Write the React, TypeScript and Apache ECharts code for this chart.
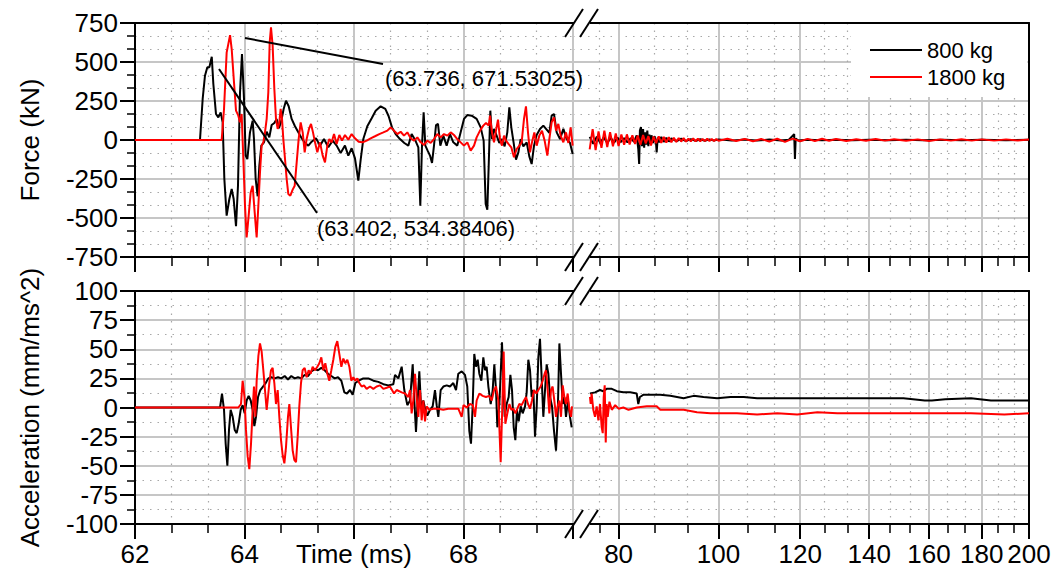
import React, { useEffect, useRef } from 'react';
import * as echarts from 'echarts';

const FONT = '"Liberation Sans", Arial, Helvetica, sans-serif';

// ---------- axes / ticks ----------
const timeLeftTicks = [62, 64, 66, 68, 70];
const timeLeftLabels = ['62', '64', '', '68', ''];
const timeRightMajor = [80, 100, 120, 140, 160, 180, 200];
const timeRightMinor = [76.67, 86.67, 93.33, 106.67, 113.33, 126.67, 133.33, 146.67, 153.33, 166.67, 173.33, 186.67, 193.33];
const timeRightRange = [72.26, 200];
const forceTicks = [-750, -500, -250, 0, 250, 500, 750];
const accelTicks = [-100, -75, -50, -25, 0, 25, 50, 75, 100];
const seriesNames = ['800 kg', '1800 kg'];
const annotations = ['(63.736, 671.53025)', '(63.402, 534.38406)'];

// ---------- data: [time (ms), value] ----------
const force800Left: [number, number][] = [
  [62.0, 0], [62.639, 0], [63.187, 0], [63.236, 263], [63.278, 412], [63.321, 466], [63.358, 466], [63.402, 534],
  [63.431, 359], [63.479, 167], [63.522, 145], [63.565, 177], [63.601, 113], [63.632, -250], [63.674, -485],
  [63.723, -378], [63.766, -314], [63.802, -378], [63.845, -553], [63.881, -293], [63.918, 306], [63.954, 551],
  [63.991, 263], [64.021, -100], [64.052, -122], [64.100, 49], [64.149, 124], [64.173, 6], [64.204, -250],
  [64.240, -361], [64.271, -165], [64.307, -36], [64.356, -15], [64.405, 53], [64.453, 17], [64.496, 96],
  [64.545, 109], [64.587, 135], [64.630, 75], [64.673, 124], [64.715, 199], [64.758, 252], [64.807, 216],
  [64.861, 135], [64.922, 88], [64.983, 49], [65.044, 11], [65.105, -19], [65.166, -36], [65.227, -11],
  [65.306, 11], [65.379, -36], [65.452, 6], [65.531, -47], [65.610, -4], [65.683, -36], [65.756, -83],
  [65.835, -36], [65.896, -100], [65.957, -53], [66.018, -118], [66.079, -261], [66.122, -126], [66.170, 6],
  [66.243, 88], [66.323, 139], [66.396, 188], [66.487, 216], [66.572, 199], [66.633, 152], [66.694, 81],
  [66.761, 38], [66.840, 6], [66.919, -19], [66.992, -36], [67.053, 38], [67.114, 2], [67.175, -47],
  [67.211, -421], [67.242, -36], [67.272, 177], [67.303, -36], [67.345, -68], [67.388, -100], [67.425, -147],
  [67.461, -36], [67.498, 96], [67.534, 103], [67.577, -36], [67.631, 28], [67.692, -36], [67.753, 38],
  [67.814, -15], [67.887, -36], [67.948, 49], [68.009, 135], [68.070, 160], [68.149, 156], [68.240, 135],
  [68.314, 81], [68.368, -4], [68.405, -410], [68.435, -447], [68.460, -165], [68.490, 188], [68.520, 6],
  [68.557, 71], [68.605, 28], [68.654, -19], [68.703, 6], [68.751, -41], [68.800, 49], [68.837, 209],
  [68.873, 81], [68.916, -19], [68.959, -126], [69.002, -79], [69.044, 6], [69.093, -41], [69.154, -15],
  [69.202, -105], [69.245, -154], [69.288, -36], [69.336, 32], [69.397, 71], [69.458, 92], [69.519, 66],
  [69.568, 45], [69.610, 156], [69.653, 167], [69.702, 49], [69.763, 6], [69.824, 71], [69.885, 6],
  [69.946, -19], [69.994, -90],
];

const force1800Left: [number, number][] = [
  [62.0, 0], [63.583, 0], [63.626, 199], [63.674, 560], [63.736, 672], [63.766, 583], [63.808, 370],
  [63.845, 188], [63.887, 156], [63.918, 113], [63.948, 167], [63.979, -122], [64.009, -421], [64.039, -624],
  [64.076, -485], [64.113, -336], [64.149, -293], [64.186, -464], [64.222, -624], [64.253, -421], [64.283, -207],
  [64.313, -36], [64.344, -15], [64.374, 49], [64.405, 135], [64.435, 306], [64.460, 626], [64.484, 722],
  [64.514, 605], [64.545, 327], [64.575, 135], [64.606, 71], [64.636, 113], [64.660, 199], [64.685, 135],
  [64.709, 6], [64.740, -122], [64.770, -250], [64.800, -346], [64.837, -357], [64.880, -318], [64.917, -293],
  [64.953, -143], [64.989, 6], [65.026, 113], [65.063, 49], [65.099, -79], [65.135, 6], [65.178, 71],
  [65.215, 103], [65.251, 49], [65.288, -15], [65.330, -79], [65.379, -15], [65.428, -100], [65.470, -143],
  [65.513, -36], [65.549, 6], [65.592, -15], [65.635, 38], [65.683, -26], [65.732, 32], [65.781, -4],
  [65.835, 32], [65.896, 2], [65.957, 38], [66.018, 11], [66.085, -11], [66.158, -15], [66.231, -4],
  [66.304, 11], [66.383, 24], [66.462, 38], [66.536, 49], [66.609, 60], [66.669, 81], [66.730, 60],
  [66.791, 38], [66.852, 53], [66.913, 28], [66.974, 49], [67.035, 11], [67.096, -4], [67.157, 17],
  [67.218, -15], [67.279, -32], [67.340, -4], [67.400, -19], [67.461, 6], [67.522, 38], [67.583, 17],
  [67.644, 38], [67.705, 28], [67.766, 49], [67.826, 32], [67.887, 6], [67.948, -15], [68.009, -36],
  [68.070, -15], [68.131, -68], [68.192, -36], [68.240, 17], [68.301, 60], [68.362, 92], [68.411, 109],
  [68.460, 92], [68.484, 156], [68.520, 49], [68.557, -15], [68.593, 60], [68.630, 130], [68.667, 6],
  [68.703, -36], [68.740, 28], [68.776, -4], [68.824, -26], [68.873, -47], [68.922, -111], [68.971, -58],
  [69.020, -36], [69.062, -15], [69.105, 135], [69.141, 216], [69.178, 49], [69.214, -79], [69.251, -15],
  [69.294, 49], [69.336, -36], [69.385, 28], [69.434, 60], [69.482, -4], [69.531, -100], [69.568, 6],
  [69.610, 113], [69.653, 145], [69.690, 60], [69.732, 103], [69.775, 28], [69.824, -15], [69.872, 49],
  [69.915, -19], [69.957, 81], [69.994, -36],
];

const force800Right: [number, number][] = [
  [75.0, 20], [75.6, -25], [76.2, 22], [76.8, -20], [77.4, 18], [78.0, -20], [78.6, 15], [79.2, -18],
  [79.8, 15], [80.4, -14], [81.0, 12], [81.6, -15], [82.2, 12], [82.8, -12], [83.3, 30], [83.6, -60],
  [83.76, -154], [83.9, 60], [84.1, 83], [84.3, -40], [84.5, 70], [84.7, -50], [84.9, 50], [85.1, -30],
  [85.3, 60], [85.5, -40], [85.7, 35], [85.9, -25], [86.1, 30], [86.4, -20], [86.7, 25], [87.0, -30],
  [87.1, -79], [87.3, 15], [87.6, -15], [88.0, 20], [88.5, -12], [89.0, 14], [89.5, -10], [90.0, 10],
  [91, -8], [92, 8], [93, -7], [94, 6], [95, -6], [96, 5], [97, -5], [98, 4], [99, -4], [100, 4],
  [103, -4], [106, 3], [109, -4], [112, 3], [115, -3], [117, 2], [118.4, 38], [118.6, -122], [118.8, 10],
  [119.5, -3], [122, 2], [126, -2], [130, 2], [135, -2], [140, 2], [146, -2], [152, 2], [158, -2],
  [165, 2], [172, -2], [180, 2], [190, -2], [200, 1],
];

const force1800Right: [number, number][] = [
  [75.0, -60], [75.5, 70], [76.0, -65], [76.5, 55], [77.0, -50], [77.5, 60], [78.0, -45], [78.5, 50],
  [79.0, -40], [79.5, 42], [80.0, -38], [80.5, 35], [81.0, -30], [81.5, 36], [82.0, -28], [82.5, 30],
  [83.0, -25], [83.5, 28], [84.0, -30], [84.5, 32], [85.0, -22], [85.5, 25], [86.0, -35], [86.5, 22],
  [87.0, -20], [87.5, 24], [88.0, -18], [88.5, 20], [89.0, -16], [89.5, 18], [90.0, -15], [90.5, 14],
  [91.0, -12], [91.5, 13], [92.0, -10], [92.5, 12], [93.0, -10], [93.5, 9], [94.0, -9], [94.5, 10],
  [95.0, -8], [95.5, 9], [96.0, -8], [96.5, 7], [97.0, -7], [97.5, 8], [98.0, -6], [98.5, 7], [99.0, -6],
  [99.5, 6], [100, -5], [102, 8], [104, -6], [106, 7], [108, -8], [110, 6], [112, -10], [114, 8],
  [116, -12], [118, 9], [120, -8], [122, 7], [124, -6], [126, 8], [128, -5], [130, 6], [133, -6],
  [136, 5], [139, -5], [142, 6], [145, -4], [148, 5], [152, -5], [156, 4], [160, -6], [164, 4],
  [168, -4], [172, 5], [176, -4], [180, 4], [185, -4], [190, 4], [195, -3], [200, 3],
];

const accel800Left: [number, number][] = [
  [62.0, 0], [63.126, 0], [63.553, 0], [63.589, 12], [63.626, -2], [63.656, -31], [63.687, -50], [63.717, -19],
  [63.747, -2], [63.784, -8], [63.820, -19], [63.857, -22], [63.893, -14], [63.930, -2], [63.966, 2],
  [64.003, -5], [64.039, 6], [64.076, 10], [64.113, 6], [64.149, -2], [64.180, -16], [64.210, -8],
  [64.247, 9], [64.289, 15], [64.338, 18], [64.387, 21], [64.435, 25], [64.490, 26], [64.551, 25],
  [64.612, 26], [64.673, 25], [64.734, 27], [64.794, 24], [64.855, 27], [64.916, 25], [64.977, 26],
  [65.038, 25], [65.099, 28], [65.160, 27], [65.221, 31], [65.282, 33], [65.342, 32], [65.403, 34],
  [65.464, 32], [65.525, 29], [65.586, 27], [65.647, 25], [65.708, 26], [65.769, 23], [65.823, 13],
  [65.872, 12], [65.927, 15], [65.976, 11], [66.024, 21], [66.085, 23], [66.170, 25], [66.262, 25],
  [66.353, 23], [66.444, 22], [66.536, 20], [66.627, 19], [66.718, 20], [66.749, 28], [66.810, 25],
  [66.871, 35], [66.919, 15], [66.974, 2], [67.023, 6], [67.072, 37], [67.102, 6], [67.132, -21],
  [67.163, 6], [67.193, 31], [67.224, 1], [67.266, 6], [67.303, -2], [67.339, -7], [67.388, -2],
  [67.437, 1], [67.479, 15], [67.510, 2], [67.540, -8], [67.583, 15], [67.632, 18], [67.693, 19],
  [67.753, 18], [67.814, 21], [67.863, 15], [67.905, 29], [67.967, 31], [68.027, 28], [68.069, 18],
  [68.106, -20], [68.137, -31], [68.167, 1], [68.197, 46], [68.228, 35], [68.259, 41], [68.289, 29],
  [68.326, 23], [68.362, 43], [68.393, 32], [68.423, 35], [68.454, 18], [68.497, 3], [68.533, 15],
  [68.563, 37], [68.594, 15], [68.618, -17], [68.655, 3], [68.679, 29], [68.703, 56], [68.728, 21],
  [68.752, -8], [68.788, 3], [68.825, 9], [68.856, 28], [68.886, 15], [68.917, -17], [68.947, -28],
  [68.977, -2], [69.008, -12], [69.045, 1], [69.081, -5], [69.124, 1], [69.154, 13], [69.184, 41],
  [69.215, 32], [69.245, 9], [69.276, 15], [69.306, -25], [69.337, 1], [69.367, 43], [69.397, 59],
  [69.428, 25], [69.458, -8], [69.489, 15], [69.519, 37], [69.550, 29], [69.580, 9], [69.617, 1],
  [69.653, -20], [69.690, -37], [69.720, -8], [69.751, 55], [69.781, 29], [69.812, 3], [69.842, 9],
  [69.872, -8], [69.909, 6], [69.945, -8], [69.976, -17],
];

const accel1800Left: [number, number][] = [
  [62.0, 0], [63.887, 0], [63.936, 3], [63.966, 23], [64.000, 9], [64.027, -19], [64.058, -42], [64.088, -53],
  [64.119, -31], [64.149, -2], [64.173, 18], [64.198, -8], [64.222, 23], [64.253, 44], [64.283, 55],
  [64.313, 48], [64.344, 32], [64.374, 15], [64.405, -2], [64.429, 9], [64.453, 21], [64.484, 32],
  [64.514, 34], [64.545, 21], [64.575, 3], [64.606, 15], [64.636, -8], [64.667, -28], [64.697, -41],
  [64.728, -48], [64.758, -34], [64.794, -8], [64.819, 3], [64.849, -17], [64.880, -37], [64.910, -45],
  [64.941, -47], [64.971, -25], [65.001, 1], [65.032, 21], [65.062, 32], [65.099, 34], [65.135, 26],
  [65.172, 32], [65.208, 29], [65.245, 35], [65.287, 32], [65.330, 35], [65.367, 38], [65.403, 43],
  [65.440, 32], [65.476, 38], [65.513, 29], [65.549, 23], [65.586, 32], [65.622, 41], [65.659, 52],
  [65.695, 57], [65.732, 46], [65.769, 35], [65.805, 42], [65.842, 38], [65.878, 41], [65.915, 35],
  [65.951, 23], [65.988, 26], [66.024, 23], [66.061, 25], [66.097, 21], [66.140, 18], [66.182, 19],
  [66.231, 16], [66.292, 18], [66.353, 16], [66.414, 18], [66.475, 19], [66.536, 16], [66.597, 17],
  [66.657, 18], [66.731, 12], [66.779, 15], [66.871, 13], [66.932, 12], [66.992, 9], [67.023, 15],
  [67.053, -5], [67.083, 6], [67.114, 29], [67.144, 9], [67.175, -8], [67.205, 15], [67.236, -11],
  [67.266, 6], [67.297, -12], [67.327, 1], [67.376, -2], [67.450, -1], [67.540, -1], [67.630, -2],
  [67.720, -1], [67.800, -1], [67.905, -1], [67.967, -8], [68.000, 2], [68.060, 0], [68.118, 3],
  [68.170, 2], [68.210, -8], [68.240, 6], [68.289, 12], [68.350, 10], [68.410, 9], [68.472, 10],
  [68.515, 6], [68.558, 15], [68.594, 18], [68.637, 6], [68.679, -47], [68.709, 1], [68.734, 48],
  [68.764, -14], [68.801, -5], [68.838, 3], [68.875, -2], [68.911, -1], [68.947, -5], [68.984, -1],
  [69.020, 3], [69.062, 2], [69.105, 6], [69.142, 9], [69.178, 3], [69.215, -1], [69.251, 6],
  [69.288, 15], [69.330, 12], [69.367, 15], [69.409, 18], [69.446, 23], [69.482, 29], [69.507, 32],
  [69.537, 15], [69.568, -5], [69.598, 15], [69.628, 18], [69.659, 6], [69.690, -8], [69.720, 1],
  [69.751, 6], [69.781, -8], [69.812, 19], [69.842, 9], [69.872, 3], [69.903, 12], [69.933, -2],
  [69.964, -8], [69.982, 1],
];

const accel800Right: [number, number][] = [
  [75.05, 12], [75.9, 13], [76.75, 15], [77.3, 14], [77.9, 16], [78.8, 16], [79.7, 14], [80.86, 13],
  [82.1, 13], [83.3, 12], [83.6, 3], [83.9, 9], [84.6, 11], [85.8, 11], [87.8, 11], [89.8, 10],
  [92.5, 8], [94.6, 10], [96.7, 9], [99.7, 8], [102.7, 9], [105.8, 9], [109.0, 8], [112.3, 8],
  [116.6, 8], [121.0, 8], [126.5, 8], [132.3, 8], [138.4, 8], [145.6, 8], [151.1, 8], [158.5, 6],
  [161.0, 6], [165.9, 7], [175.7, 8], [183.7, 6], [189.3, 6], [200, 6],
];

const accel1800Right: [number, number][] = [
  [75.05, 9], [75.17, 3], [75.33, 12], [75.61, -2], [75.9, -8], [76.18, 1], [76.47, -11], [76.75, 3],
  [77.04, -17], [77.22, -22], [77.39, 9], [77.56, 19], [77.74, -30], [77.9, 3], [78.09, -8], [78.38, 5],
  [78.8, -2], [79.4, 2], [80.0, -1], [80.86, 0], [81.8, -2], [83.3, 0], [85.2, 1], [87.1, 1],
  [87.8, -2], [89.8, -2], [92.5, -2], [95.3, -4], [98.2, -5], [101.2, -5], [104.2, -5], [109.0, -6],
  [114.0, -5], [119.2, -6], [124.7, -4], [130.4, -5], [140.5, -5], [151.1, -5], [163.4, -5],
  [175.7, -5], [189.3, -6], [200, -5],
];

// ---------- styles ----------
const BLACK = '#000000';
const RED = '#ff0000';
const GRID_MAJOR = { color: '#c6c6c6', width: 2 };
const GRID_MINOR = { color: '#a8a8a8', width: 1.2, type: [1.5, 6] as any };

const grids = [
  { left: 135, top: 23, width: 438, height: 234, outerBoundsMode: 'none', containLabel: false },
  { left: 573, top: 23, width: 456, height: 234, outerBoundsMode: 'none', containLabel: false },
  { left: 135, top: 291, width: 438, height: 233, outerBoundsMode: 'none', containLabel: false },
  { left: 573, top: 291, width: 456, height: 233, outerBoundsMode: 'none', containLabel: false },
];
const FRAME_YS = [23, 257, 291, 524];

function leftTimeAxis(gridIndex: number, labels: boolean): any {
  return {
    type: 'value', gridIndex, position: 'bottom',
    min: timeLeftTicks[0], max: timeLeftTicks[timeLeftTicks.length - 1],
    interval: timeLeftTicks[1] - timeLeftTicks[0],
    axisLine: { show: true, onZero: false, lineStyle: { color: BLACK, width: 2 } },
    axisTick: { show: true, length: 15, lineStyle: { color: BLACK, width: 2 } },
    minorTick: { show: true, splitNumber: 3, length: 9, lineStyle: { color: BLACK, width: 1.5 } },
    splitLine: { show: true, lineStyle: GRID_MAJOR },
    minorSplitLine: { show: true, lineStyle: GRID_MINOR },
    axisLabel: {
      show: labels, margin: 17, fontSize: 26, fontFamily: FONT, color: BLACK,
      formatter: (v: number) => timeLeftLabels[timeLeftTicks.indexOf(v)] ?? '',
    },
    name: labels ? 'Time (ms)' : '', nameLocation: 'middle', nameGap: 17, nameMoveOverlap: false,
    nameTextStyle: { fontSize: 26, fontFamily: FONT, color: BLACK },
  };
}

function rightTimeAxisMajor(gridIndex: number, labels: boolean): any {
  return {
    type: 'log', logBase: 10, gridIndex, position: 'bottom',
    min: timeRightRange[0], max: timeRightRange[1],
    axisLine: { show: true, onZero: false, lineStyle: { color: BLACK, width: 2 } },
    axisTick: { show: true, length: 15, customValues: timeRightMajor, lineStyle: { color: BLACK, width: 2 } },
    minorTick: { show: false },
    splitLine: { show: true, lineStyle: GRID_MAJOR },
    minorSplitLine: { show: false },
    axisLabel: {
      show: labels, margin: 17, fontSize: 26, fontFamily: FONT, color: BLACK,
      customValues: timeRightMajor, formatter: (v: number) => String(Math.round(v)),
    },
  };
}

function rightTimeAxisMinor(gridIndex: number): any {
  return {
    type: 'log', logBase: 10, gridIndex, position: 'bottom',
    min: timeRightRange[0], max: timeRightRange[1],
    axisLine: { show: false, onZero: false },
    axisTick: { show: true, length: 9, customValues: timeRightMinor, lineStyle: { color: BLACK, width: 1.5 } },
    minorTick: { show: false },
    splitLine: { show: true, lineStyle: GRID_MINOR },
    minorSplitLine: { show: false },
    axisLabel: { show: false, customValues: timeRightMinor },
  };
}

function topFrameAxis(gridIndex: number): any {
  return {
    type: 'value', gridIndex, position: 'top', min: 0, max: 1,
    axisLine: { show: true, onZero: false, lineStyle: { color: BLACK, width: 2 } },
    axisTick: { show: false }, axisLabel: { show: false }, splitLine: { show: false },
  };
}

function valueAxis(gridIndex: number, ticks: number[], minorSplit: number, left: boolean, name: string): any {
  return {
    type: 'value', gridIndex, position: left ? 'left' : 'right',
    min: ticks[0], max: ticks[ticks.length - 1], interval: ticks[1] - ticks[0],
    axisLine: { show: true, onZero: false, lineStyle: { color: BLACK, width: 2 } },
    axisTick: { show: left, length: 15, lineStyle: { color: BLACK, width: 2 } },
    minorTick: { show: left, splitNumber: minorSplit, length: 8, lineStyle: { color: BLACK, width: 1.5 } },
    splitLine: { show: true, lineStyle: GRID_MAJOR },
    minorSplitLine: { show: true, lineStyle: GRID_MINOR },
    axisLabel: { show: left, margin: 17, fontSize: 26, fontFamily: FONT, color: BLACK },
    name: left ? name : '', nameLocation: 'middle', nameGap: 92, nameRotate: 90, nameMoveOverlap: false,
    nameTextStyle: { fontSize: 26, fontFamily: FONT, color: BLACK },
  };
}

function line(name: string, color: string, data: [number, number][], xAxisIndex: number, yAxisIndex: number, z: number): any {
  return {
    type: 'line', name, data, xAxisIndex, yAxisIndex, z,
    symbol: 'none', showSymbol: false, clip: true,
    lineStyle: { color, width: 2 }, itemStyle: { color },
  };
}

function breakMarks(y: number): any[] {
  const gap = { type: 'rect', z: 99, shape: { x: 574, y: y - 2, width: 16, height: 4 }, style: { fill: '#ffffff' } };
  const slashes = [565, 580].map((x) => ({
    type: 'line', z: 100,
    shape: { x1: x, y1: y + 14, x2: x + 18, y2: y - 14 },
    style: { stroke: BLACK, lineWidth: 2 },
  }));
  return [gap, ...slashes];
}

export default function App() {
  const ref = useRef<HTMLDivElement>(null);
  useEffect(() => {
    if (!ref.current) return;
    const chart = echarts.init(ref.current, undefined, { renderer: 'svg' });
    const option: any = {
      animation: false,
      backgroundColor: '#ffffff',
      textStyle: { fontFamily: FONT },
      grid: grids,
      xAxis: [
        leftTimeAxis(0, false), topFrameAxis(0),
        rightTimeAxisMajor(1, false), rightTimeAxisMinor(1), topFrameAxis(1),
        leftTimeAxis(2, true), topFrameAxis(2),
        rightTimeAxisMajor(3, true), rightTimeAxisMinor(3), topFrameAxis(3),
      ],
      yAxis: [
        valueAxis(0, forceTicks, 3, true, 'Force (kN)'),
        valueAxis(1, forceTicks, 3, false, ''),
        valueAxis(2, accelTicks, 2, true, 'Acceleration (mm/ms^2)'),
        valueAxis(3, accelTicks, 2, false, ''),
      ],
      legend: {
        data: seriesNames, orient: 'vertical', left: 851, top: 24,
        icon: 'rect', itemWidth: 52, itemHeight: 2, itemGap: 5,
        padding: [15, 22, 9, 19], backgroundColor: '#ffffff',
        textStyle: { fontSize: 22, fontFamily: FONT, color: BLACK, lineHeight: 22 },
      },
      series: [
        line(seriesNames[0], BLACK, force800Left, 0, 0, 2),
        line(seriesNames[1], RED, force1800Left, 0, 0, 3),
        line(seriesNames[0], BLACK, force800Right, 2, 1, 2),
        line(seriesNames[1], RED, force1800Right, 2, 1, 3),
        line(seriesNames[0], BLACK, accel800Left, 5, 2, 2),
        line(seriesNames[1], RED, accel1800Left, 5, 2, 3),
        line(seriesNames[0], BLACK, accel800Right, 7, 3, 2),
        line(seriesNames[1], RED, accel1800Right, 7, 3, 3),
      ],
      graphic: [
        ...FRAME_YS.flatMap((y) => breakMarks(y)),
        { type: 'line', z: 100, shape: { x1: 245, y1: 38, x2: 383, y2: 64 }, style: { stroke: BLACK, lineWidth: 2 } },
        { type: 'line', z: 100, shape: { x1: 219, y1: 69, x2: 317, y2: 213 }, style: { stroke: BLACK, lineWidth: 2 } },
        { type: 'text', z: 100, x: 385, y: 78, style: { text: annotations[0], fontSize: 22, fontFamily: FONT, fill: BLACK, verticalAlign: 'middle' } },
        { type: 'text', z: 100, x: 317, y: 228, style: { text: annotations[1], fontSize: 22, fontFamily: FONT, fill: BLACK, verticalAlign: 'middle' } },
      ],
    };
    chart.setOption(option);
    return () => chart.dispose();
  }, []);
  return <div ref={ref} style={{ position: 'absolute', left: 0, top: 0, width: 1054, height: 575 }} />;
}
